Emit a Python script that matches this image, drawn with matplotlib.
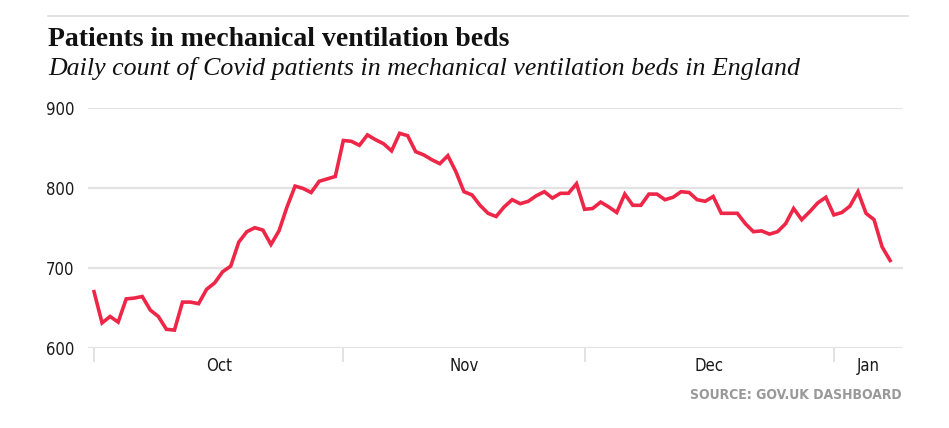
import matplotlib
matplotlib.use("Agg")
import matplotlib.pyplot as plt
import matplotlib.dates as mdates
import pandas as pd

# daily values from 1 Oct 2020
start_date = "2020-10-01"
patients = [
    670, 631, 639, 632, 661, 662, 664, 647, 639, 623,
    622, 657, 657, 655, 673, 681, 695, 702, 732, 745,
    750, 747, 729, 746, 776, 802, 799, 794, 808, 811,
    814, 859, 858, 853, 866, 860, 855, 846, 868, 865,
    845, 841, 835, 830, 840, 820, 795, 791, 778, 768,
    764, 776, 785, 780, 783, 790, 795, 787, 793, 793,
    805, 773, 774, 782, 776, 769, 792, 778, 778, 792,
    792, 785, 788, 795, 794, 785, 783, 789, 768, 768,
    768, 755, 745, 746, 742, 745, 755, 774, 760, 770,
    781, 788, 766, 769, 777, 795, 768, 760, 726, 709,
]
month_starts = ["2020-10-01", "2020-11-01", "2020-12-01", "2021-01-01"]
month_labels = ["Oct", "Nov", "Dec", "Jan"]
y_ticks = [600, 700, 800, 900]

title = "Patients in mechanical ventilation beds"
subtitle = "Daily count of Covid patients in mechanical ventilation beds in England"
source = "SOURCE: GOV.UK DASHBOARD"

dates = pd.date_range(start_date, periods=len(patients), freq="D")

W, H = 949, 428
fig = plt.figure(figsize=(W / 100, H / 100), dpi=100)
fig.patch.set_facecolor("white")

ax_left, ax_right = 88, 903
ax_top, ax_bottom = 107.7, 347.7
ax = fig.add_axes([ax_left / W, 1 - ax_bottom / H,
                   (ax_right - ax_left) / W, (ax_bottom - ax_top) / H])

ax.plot(dates, patients, color="#EE2648", lw=2.6, solid_joinstyle="miter",
        clip_on=False, zorder=3)

x0 = mdates.date2num(dates[0]) - 0.75
x1 = mdates.date2num(dates[0]) + 100.6
ax.set_xlim(x0, x1)
ax.set_ylim(600, 900)

for s in ax.spines.values():
    s.set_visible(False)

sans = ["DejaVu Sans"]

ax.set_yticks(y_ticks)
ax.set_yticklabels([str(v) for v in y_ticks])
ax.yaxis.grid(True, color="#e3e3e3", lw=1.6)
ax.set_axisbelow(True)
ax.tick_params(axis="y", length=0, pad=10, labelsize=12, labelcolor="#1a1a1a")

# month boundaries as ticks, labels centred in each month
ms = [mdates.date2num(pd.Timestamp(d)) for d in month_starts]
ax.set_xticks(ms)
ax.set_xticklabels([""] * len(ms))
ax.tick_params(axis="x", which="major", direction="out", length=10,
               width=1.2, color="#dddddd")
ends = ms[1:] + [x1]
mids = [(a + min(b, x1)) / 2 for a, b in zip(ms, ends)]
ax.set_xticks(mids, minor=True)
ax.set_xticklabels(month_labels, minor=True)
ax.tick_params(axis="x", which="minor", length=0, pad=7, labelsize=12,
               labelcolor="#1a1a1a")

for lab in ax.get_xticklabels(minor=True) + ax.get_yticklabels():
    lab.set_family(sans)
    lab.set_stretch("condensed")

# top rule
fig.add_artist(plt.Line2D([48 / W, 908 / W], [1 - 16 / H, 1 - 16 / H],
                          color="#dddddd", lw=1.2))

fig.text(48 / W, 1 - 46 / H, title, fontsize=20, fontweight="bold",
         family="Liberation Serif", color="#111111", va="baseline")
fig.text(48 / W, 1 - 75 / H, subtitle, fontsize=18.6, style="italic",
         family="Liberation Serif", color="#111111", va="baseline")
fig.text(902 / W, 1 - 395 / H, source, fontsize=10, color="#999999",
         family=sans, stretch="condensed", fontweight="semibold",
         ha="right", va="center")

fig.savefig("out.png", dpi=100)
